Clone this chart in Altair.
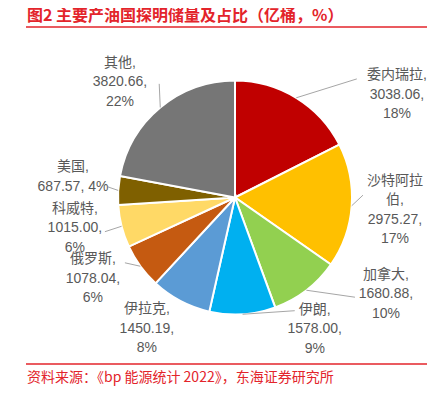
import altair as alt
import pandas as pd

countries = ["委内瑞拉", "沙特阿拉伯", "加拿大", "伊朗", "伊拉克", "俄罗斯", "科威特", "美国", "其他"]
values = [3038.06, 2975.27, 1680.88, 1578.00, 1450.19, 1078.04, 1015.00, 687.57, 3820.66]
pcts = ["18%", "17%", "10%", "9%", "8%", "6%", "6%", "4%", "22%"]
labels = [
    "委内瑞拉,\n3038.06,\n18%",
    "沙特阿拉\n伯,\n2975.27,\n17%",
    "加拿大,\n1680.88,\n10%",
    "伊朗,\n1578.00,\n9%",
    "伊拉克,\n1450.19,\n8%",
    "俄罗斯,\n1078.04,\n6%",
    "科威特,\n1015.00,\n6%",
    "美国,\n687.57, 4%",
    "其他,\n3820.66,\n22%",
]
colors = ["#C00000", "#FFC000", "#92D050", "#00B0F0", "#5B9BD5", "#C55A11", "#FFD966", "#7F6000", "#767676"]

# layout (label placement relative to slice mid-angle)
label_nudge = [26.1, 0.5, -19.8, -27.5, 6.1, 6.2, 3.3, 3.8, -5.2]
label_r = [191.7, 160.5, 179.2, 153.9, 158.2, 163.7, 163.1, 163.3, 163.0]
lead_nudge = [14.2, -5.1, -12.7, -24.1, 0, 5.3, -0.5, 1.3, 6.0]
lead_r = [170, 128, 156, 128, 117, 128, 134.5, 127.4, 136.6]

title_text = "图2  主要产油国探明储量及占比（亿桶，%）"
source_text = "资料来源：《bp 能源统计 2022》，东海证券研究所"

CX, CY, R = 227, 187.5, 117
LH = 19.5
RED = "#E3242B"
FONT = "Liberation Sans, Noto Sans CJK SC"

df = pd.DataFrame({
    "idx": list(range(len(countries))),
    "country": countries,
    "value": values,
    "label": labels,
    "nl": [s.count("\n") + 1 for s in labels],
    "lnudge": label_nudge,
    "lr": label_r,
    "dnudge": lead_nudge,
    "dr": lead_r,
})

base = alt.Chart(df)

pie = base.mark_arc(outerRadius=R, stroke="white", strokeWidth=2).encode(
    theta=alt.Theta("value:Q", stack=True),
    color=alt.Color("country:N", scale=alt.Scale(domain=countries, range=colors), legend=None),
    order=alt.Order("idx:Q"),
    x=alt.value(CX),
    y=alt.value(CY),
)

geo = base.transform_window(
    cum="sum(value)", sort=[{"field": "idx"}], frame=[None, 0]
).transform_joinaggregate(
    total="sum(value)"
).transform_calculate(
    mid="(datum.cum - datum.value/2) / datum.total * 2 * PI",
).transform_calculate(
    la="datum.mid + datum.lnudge * PI / 180",
    da="datum.mid + datum.dnudge * PI / 180",
).transform_calculate(
    lx=f"{CX} + datum.lr * sin(datum.la)",
    ly=f"{CY} - datum.lr * cos(datum.la) - (datum.nl - 1) * {LH} / 2",
    sx=f"{CX} + {R} * sin(datum.mid)",
    sy=f"{CY} - {R} * cos(datum.mid)",
    ex=f"{CX} + datum.dr * sin(datum.da)",
    ey=f"{CY} - datum.dr * cos(datum.da)",
)

leaders = geo.mark_rule(color="#A6A6A6", strokeWidth=1).encode(
    x=alt.X("sx:Q", scale=None),
    y=alt.Y("sy:Q", scale=None),
    x2="ex:Q",
    y2="ey:Q",
)

texts = geo.mark_text(
    font=FONT, fontSize=14, color="#595959", align="center", baseline="middle",
    lineBreak="\n", lineHeight=LH,
).encode(
    x=alt.X("lx:Q", scale=None),
    y=alt.Y("ly:Q", scale=None),
    text="label:N",
)

tdf = pd.DataFrame({"t": [title_text]})
sdf = pd.DataFrame({"t": [source_text]})

title = alt.Chart(tdf).mark_text(
    font="Noto Sans CJK SC", fontSize=16, fontWeight="bold", color=RED, align="left", baseline="middle"
).encode(text="t:N", x=alt.value(19), y=alt.value(6))

source = alt.Chart(sdf).mark_text(
    font="Noto Sans CJK SC", fontSize=14, color=RED, align="left", baseline="middle"
).encode(text="t:N", x=alt.value(19), y=alt.value(368))

line1 = alt.Chart(tdf).mark_rule(color=RED, strokeWidth=1.5).encode(
    x=alt.value(18), x2=alt.value(419), y=alt.value(17)
)
line2 = alt.Chart(sdf).mark_rule(color=RED, strokeWidth=1.5).encode(
    x=alt.value(18), x2=alt.value(419), y=alt.value(354)
)

chart = alt.layer(pie, leaders, texts, title, line1, line2, source).properties(
    width=426, height=381, padding=0,
    autosize=alt.AutoSizeParams(type="fit", contains="padding"),
).configure_view(stroke=None)

chart.save("out.html", embed_options={"renderer": "svg", "actions": False})
